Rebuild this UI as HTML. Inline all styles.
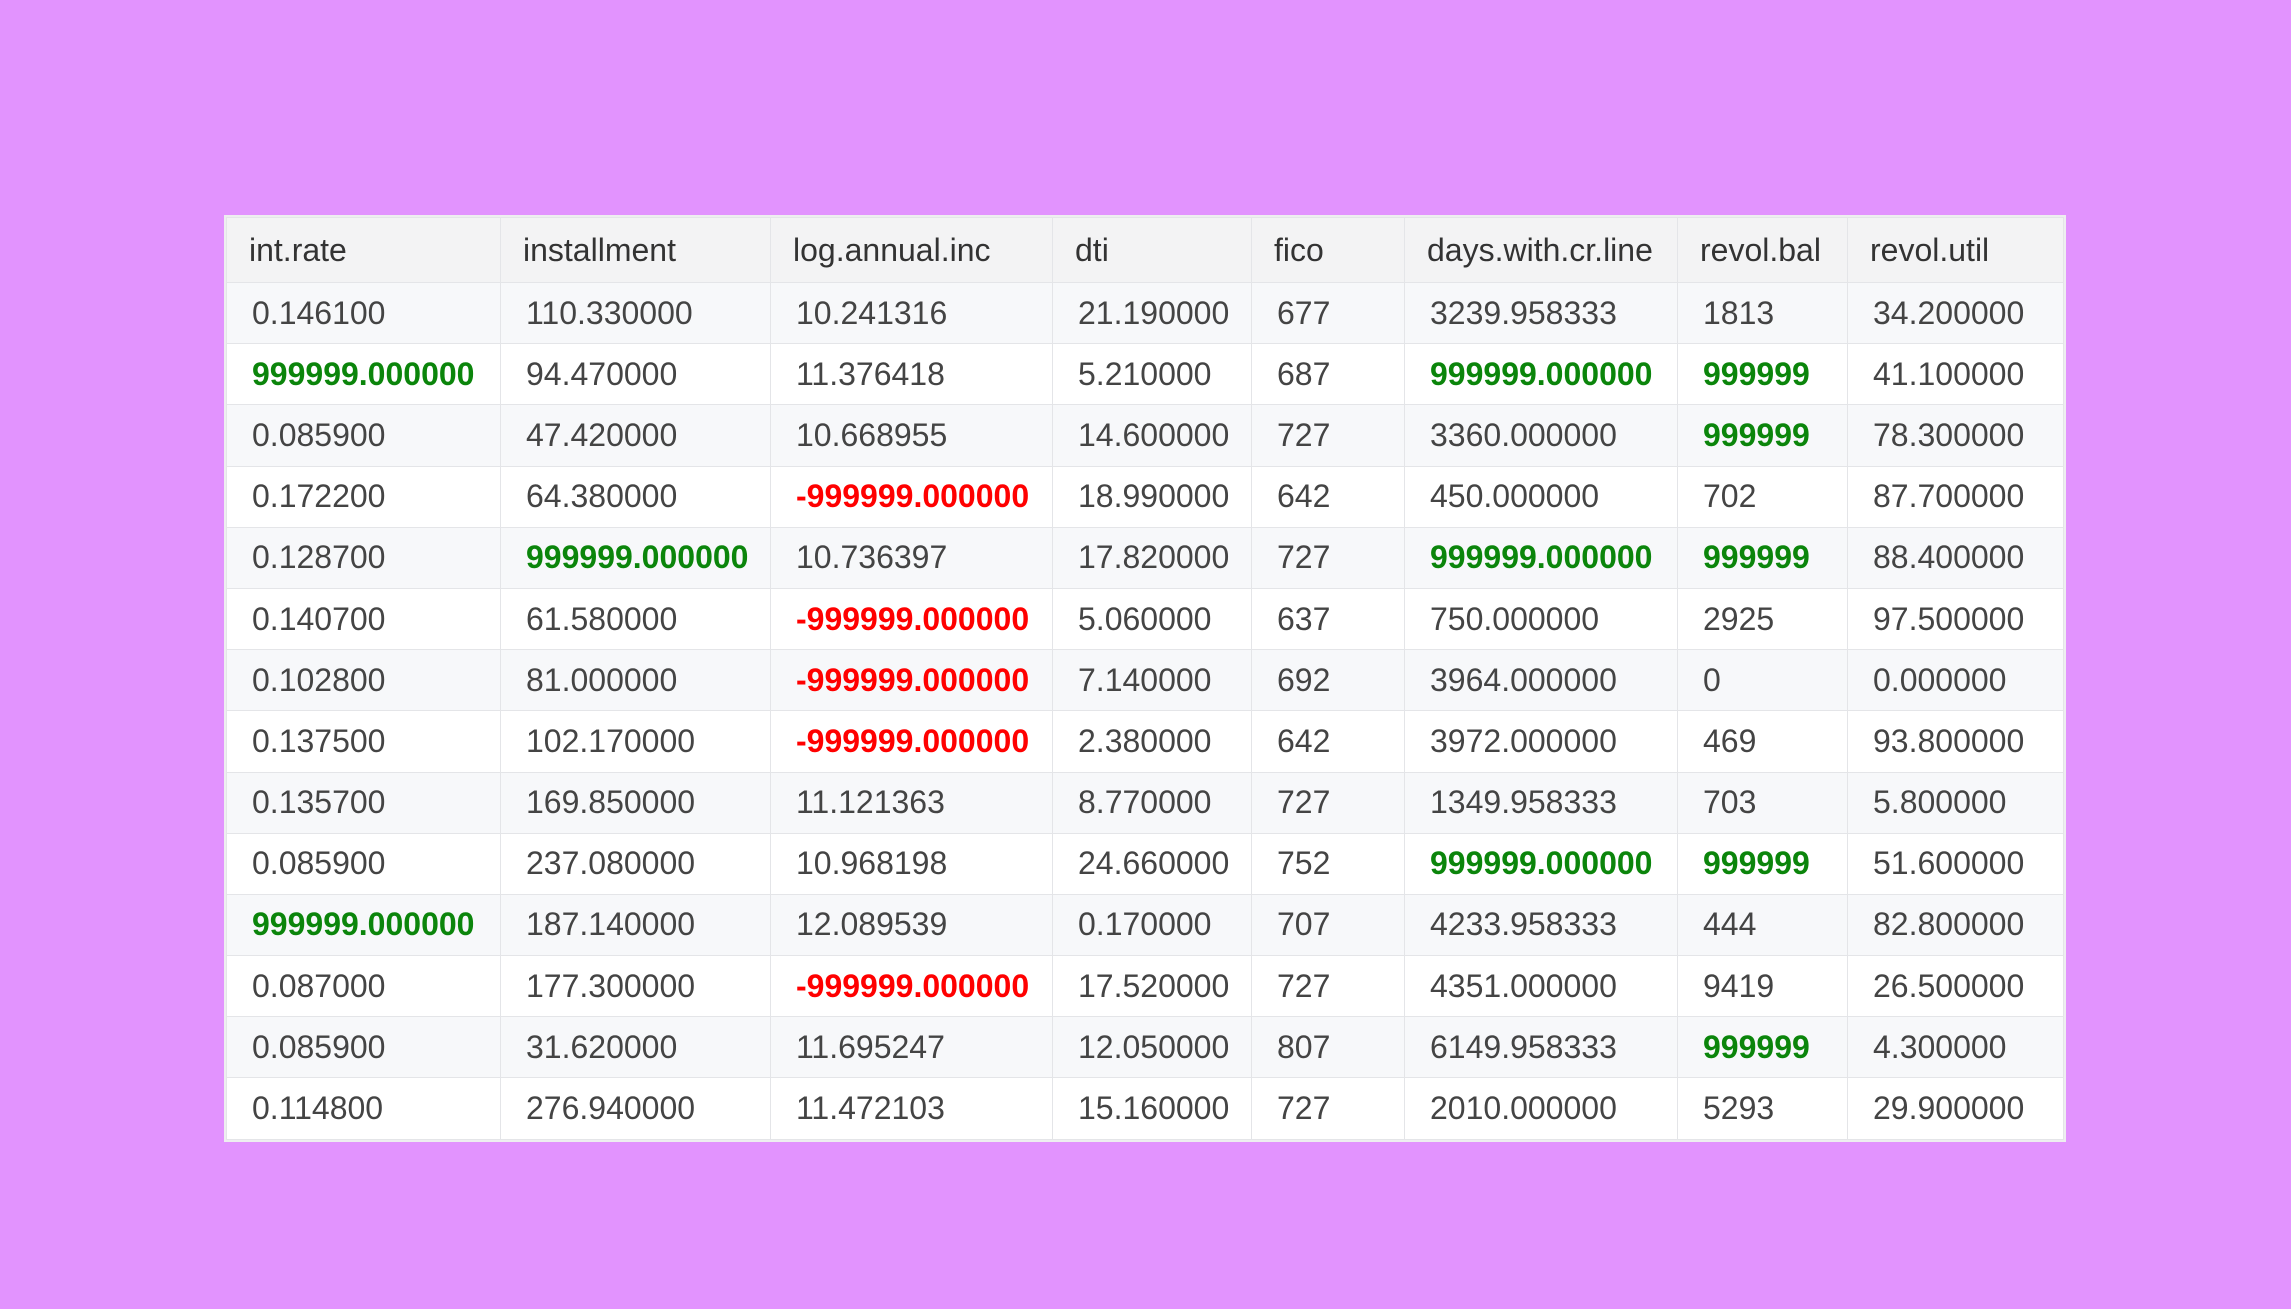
<!DOCTYPE html>
<html><head><meta charset="utf-8"><style>
html,body{margin:0;padding:0}
body{width:2291px;height:1309px;background:#e293fe;position:relative;overflow:hidden;font-family:"Liberation Sans",Arial,sans-serif}
table{position:absolute;left:226px;top:217px;border-collapse:collapse;background:#fff;table-layout:fixed;width:1837px;outline:2px solid #eeeef0}
th,td{border:1.5px solid #e4e5e8;padding:0 0 0 25px;text-align:left;font-size:32px;white-space:nowrap;overflow:hidden}
th{height:64px;background:#f3f3f4;color:#333;font-weight:normal;padding-left:22px}
td{height:60.2px;color:#444}
tbody tr:nth-child(odd) td{background:#f7f8fa}
.g{color:#0b850b;font-weight:bold}
.r{color:#f00;font-weight:bold}
</style></head><body>
<table>
<colgroup><col style="width:274px"><col style="width:270px"><col style="width:282px"><col style="width:199px"><col style="width:153px"><col style="width:273px"><col style="width:170px"><col style="width:216px"></colgroup>
<thead><tr>
<th>int.rate</th>
<th>installment</th>
<th>log.annual.inc</th>
<th>dti</th>
<th>fico</th>
<th>days.with.cr.line</th>
<th>revol.bal</th>
<th>revol.util</th>
</tr></thead>
<tbody id="tb"></tbody>
</table>
<script>
const rows = [
["0.146100","110.330000","10.241316","21.190000","677","3239.958333","1813","34.200000"],
["g999999.000000","94.470000","11.376418","5.210000","687","g999999.000000","g999999","41.100000"],
["0.085900","47.420000","10.668955","14.600000","727","3360.000000","g999999","78.300000"],
["0.172200","64.380000","r-999999.000000","18.990000","642","450.000000","702","87.700000"],
["0.128700","g999999.000000","10.736397","17.820000","727","g999999.000000","g999999","88.400000"],
["0.140700","61.580000","r-999999.000000","5.060000","637","750.000000","2925","97.500000"],
["0.102800","81.000000","r-999999.000000","7.140000","692","3964.000000","0","0.000000"],
["0.137500","102.170000","r-999999.000000","2.380000","642","3972.000000","469","93.800000"],
["0.135700","169.850000","11.121363","8.770000","727","1349.958333","703","5.800000"],
["0.085900","237.080000","10.968198","24.660000","752","g999999.000000","g999999","51.600000"],
["g999999.000000","187.140000","12.089539","0.170000","707","4233.958333","444","82.800000"],
["0.087000","177.300000","r-999999.000000","17.520000","727","4351.000000","9419","26.500000"],
["0.085900","31.620000","11.695247","12.050000","807","6149.958333","g999999","4.300000"],
["0.114800","276.940000","11.472103","15.160000","727","2010.000000","5293","29.900000"]
];
const tb=document.getElementById('tb');
rows.forEach((r,i)=>{
  const tr=document.createElement('tr');
  
  
  r.forEach(v=>{
    const td=document.createElement('td');
    
    
    if(v[0]==='g'){td.className='g';v=v.slice(1);}
    else if(v[0]==='r'){td.className='r';v=v.slice(1);}
    td.textContent=v;
    tr.appendChild(td);
  });
  tb.appendChild(tr);
});
</script>
</body></html>
